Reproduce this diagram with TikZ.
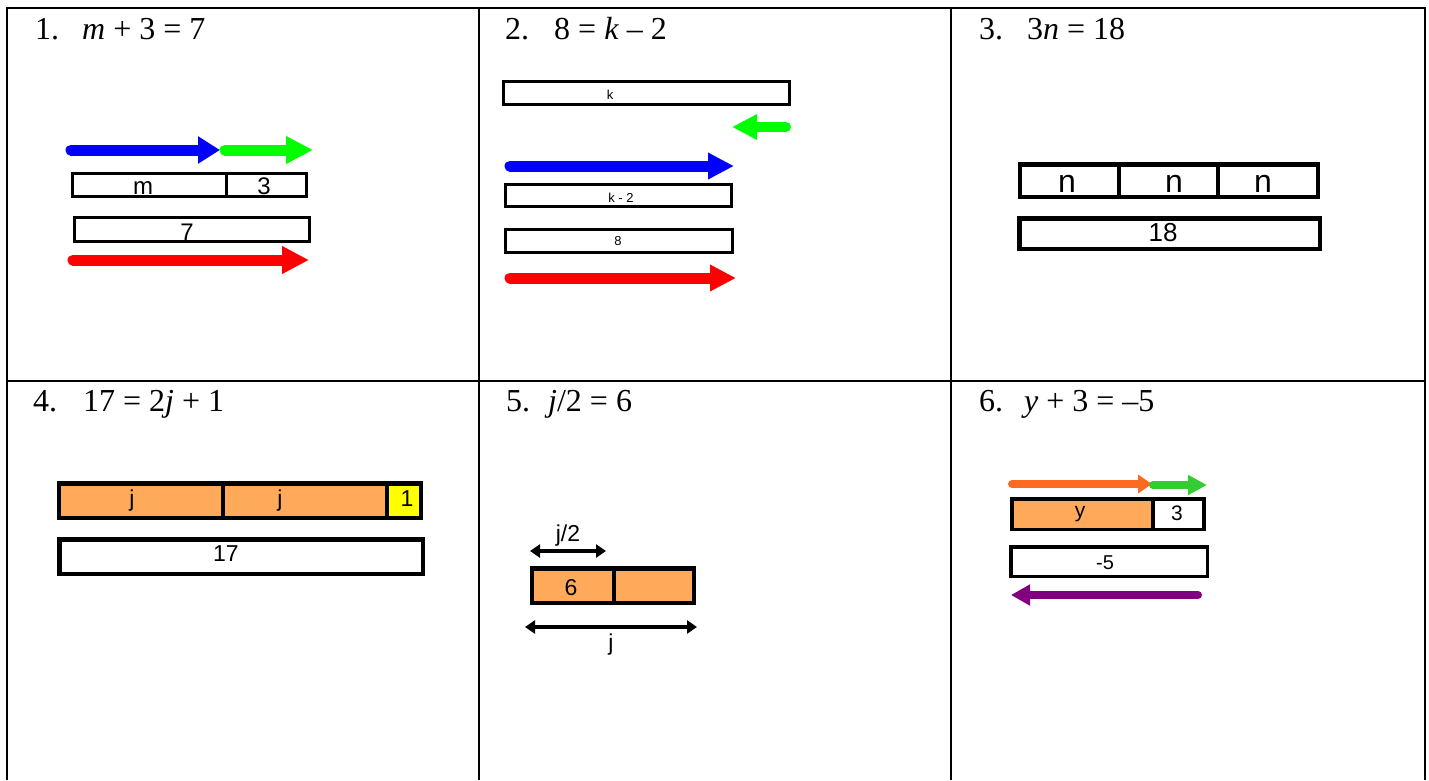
\documentclass[tikz,border=0pt]{standalone}
\usepackage{fontspec}
\setmainfont{Liberation Serif}
\newfontfamily\arialf{Liberation Sans}
\usetikzlibrary{arrows.meta}
\definecolor{orfill}{RGB}{255,170,90}
\definecolor{oarrow}{RGB}{255,106,34}
\definecolor{garrow}{RGB}{51,204,51}
\definecolor{parrow}{RGB}{128,0,128}
\definecolor{lgreen}{RGB}{0,255,0}
\definecolor{ylw}{RGB}{255,255,0}
\begin{document}
\begin{tikzpicture}[x=1pt,y=-1pt,
  gridline/.style={line width=2pt},
  ttl/.style={inner sep=0pt, anchor=base west, font=\fontsize{32}{38}\selectfont},
  bx/.style={draw, rectangle, inner sep=0pt, anchor=center},
  lbl/.style={inner sep=0pt, anchor=base, font=\arialf\fontsize{23}{27}\selectfont},
  fat/.style={line width=11pt, line cap=round},
  thin/.style={line width=8pt, line cap=round},
  dbl/.style={line width=3.5pt, {Triangle[length=10pt,width=13pt]}-{Triangle[length=10pt,width=13pt]}}
]
\useasboundingbox (0,0) rectangle (1429,780);
\fill[white] (0,0) rectangle (1429,780);
% grid
\draw[gridline] (7,780) -- (7,8) -- (1425,8) -- (1425,780);
\draw[gridline] (7,381) -- (1425,381);
\draw[gridline] (479,8) -- (479,780);
\draw[gridline] (951,8) -- (951,780);

% ---------- Panel 1 ----------
\node[ttl] (t1n) at (35,39) {1.};
\node[ttl] (t1e) at (82,39) {\textit{m} + 3 = 7};
\coordinate (a1bs) at (71,150); \coordinate (a1be) at (220,150);
\coordinate (a1gs) at (225,150); \coordinate (a1ge) at (313,150);
\coordinate (a1rs) at (73,260); \coordinate (a1re) at (309,260);
\draw[fat, blue, -{Triangle[length=22pt,width=26pt]}] (a1bs) -- (a1be);
\draw[fat, lgreen, -{Triangle[length=27pt,width=26pt]}] (a1gs) -- (a1ge);
\draw[fat, red, -{Triangle[length=27pt,width=26pt]}] (a1rs) -- (a1re);
\node[bx, line width=3pt, minimum width=153.5pt, minimum height=23pt] (b1m) at (149.25,184.5) {};
\node[bx, line width=3pt, minimum width=80.5pt, minimum height=23pt] (b1t) at (266.25,184.5) {};
\node[bx, line width=3pt, minimum width=235pt, minimum height=24pt] (b1s) at (191.5,229) {};
\node[lbl, font=\arialf\fontsize{24}{28}\selectfont] (l1m) at (143,194) {m};
\node[lbl, font=\arialf\fontsize{24}{28}\selectfont] (l1t) at (264,194) {3};
\node[lbl, font=\arialf\fontsize{24}{28}\selectfont] (l1s) at (187,240) {7};

% ---------- Panel 2 ----------
\node[ttl] (t2n) at (505,39) {2.};
\node[ttl] (t2e) at (554,39) {8 = \textit{k} – 2};
\node[bx, line width=3pt, minimum width=286pt, minimum height=23pt] (b2k) at (646.5,93) {};
\node[bx, line width=3pt, minimum width=226pt, minimum height=22pt] (b2km) at (618.5,195.5) {};
\node[bx, line width=3pt, minimum width=227pt, minimum height=23pt] (b2e) at (619,241) {};
\node[lbl, font=\arialf\fontsize{13}{15}\selectfont] (l2k) at (610,99) {k};
\node[lbl, font=\arialf\fontsize{13}{15}\selectfont] (l2km) at (621,202) {k - 2};
\node[lbl, font=\arialf\fontsize{13}{15}\selectfont] (l2e) at (618,245) {8};
\coordinate (a2gs) at (786,127); \coordinate (a2ge) at (732,127);
\coordinate (a2bs) at (510,166); \coordinate (a2be) at (734,166);
\coordinate (a2rs) at (510,278); \coordinate (a2re) at (736,278);
\draw[fat, line width=10pt, lgreen, -{Triangle[length=25pt,width=24pt]}] (a2gs) -- (a2ge);
\draw[fat, blue, -{Triangle[length=26pt,width=25pt]}] (a2bs) -- (a2be);
\draw[fat, red, -{Triangle[length=26pt,width=25pt]}] (a2rs) -- (a2re);

% ---------- Panel 3 ----------
\node[ttl] (t3n) at (979,39) {3.};
\node[ttl] (t3e) at (1027,39) {3\textit{n} = 18};
\node[bx, line width=4.5pt, minimum width=98.75pt, minimum height=32.5pt] (b3a) at (1069.6,180.5) {};
\node[bx, line width=4.5pt, minimum width=99pt, minimum height=32.5pt] (b3b) at (1168.5,180.5) {};
\node[bx, line width=4.5pt, minimum width=99.75pt, minimum height=32.5pt] (b3c) at (1267.9,180.5) {};
\node[bx, line width=4.5pt, minimum width=300.5pt, minimum height=30.5pt] (b3s) at (1169.5,233.5) {};
\node[lbl, font=\arialf\fontsize{32}{36}\selectfont] (l3a) at (1067,192) {n};
\node[lbl, font=\arialf\fontsize{32}{36}\selectfont] (l3b) at (1174,192) {n};
\node[lbl, font=\arialf\fontsize{32}{36}\selectfont] (l3c) at (1263,192) {n};
\node[lbl, font=\arialf\fontsize{26}{30}\selectfont] (l3s) at (1163,241) {18};

% ---------- Panel 4 ----------
\node[ttl] (t4n) at (33,411) {4.};
\node[ttl] (t4e) at (83,411) {17 = 2\textit{j} + 1};
\node[bx, line width=4.5pt, fill=orfill, minimum width=163.75pt, minimum height=34.5pt] (b4a) at (141.1,500.5) {};
\node[bx, line width=4.5pt, fill=orfill, minimum width=164pt, minimum height=34.5pt] (b4b) at (305,500.5) {};
\node[bx, line width=4.5pt, fill=ylw, minimum width=33.75pt, minimum height=34.5pt] (b4c) at (403.9,500.5) {};
\node[bx, line width=4.5pt, minimum width=363.5pt, minimum height=34.5pt] (b4s) at (241,556.5) {};
\node[lbl] (l4a) at (132,506) {j};
\node[lbl] (l4b) at (280,506) {j};
\node[lbl] (l4c) at (407,506) {1};
\node[lbl] (l4s) at (226,561) {17};

% ---------- Panel 5 ----------
\node[ttl] (t5n) at (506,411) {5.};
\node[ttl] (t5e) at (548,411) {\textit{j}/2 = 6};
\coordinate (a5hs) at (530,551); \coordinate (a5he) at (606,551);
\coordinate (a5js) at (525,627); \coordinate (a5je) at (697,627);
\draw[dbl] (a5hs) -- (a5he);
\draw[dbl] (a5js) -- (a5je);
\node[lbl] (l5h) at (568,541) {j/2};
\node[bx, line width=4.5pt, fill=orfill, minimum width=81.75pt, minimum height=34.5pt] (b5a) at (573.1,585.5) {};
\node[bx, line width=4.5pt, fill=orfill, minimum width=79.75pt, minimum height=34.5pt] (b5b) at (653.9,585.5) {};
\node[lbl] (l5a) at (571,595) {6};
\node[lbl] (l5j) at (611,650) {j};

% ---------- Panel 6 ----------
\node[ttl] (t6n) at (979,411) {6.};
\node[ttl] (t6e) at (1024,411) {\textit{y} + 3 = –5};
\coordinate (a6os) at (1012,484); \coordinate (a6oe) at (1152,484);
\coordinate (a6gs) at (1153,485); \coordinate (a6ge) at (1207,485);
\coordinate (a6ps) at (1198,595); \coordinate (a6pe) at (1011,595);
\draw[thin, oarrow, -{Triangle[length=14pt,width=18pt]}] (a6os) -- (a6oe);
\draw[thin, garrow, -{Triangle[length=19pt,width=19pt]}] (a6gs) -- (a6ge);
\draw[thin, parrow, -{Triangle[length=19pt,width=20pt]}] (a6ps) -- (a6pe);
\node[bx, line width=3.5pt, fill=orfill, minimum width=141.25pt, minimum height=30.5pt] (b6y) at (1082.4,514) {};
\node[bx, line width=3.5pt, minimum width=51.25pt, minimum height=30.5pt] (b6t) at (1178.6,514) {};
\node[bx, line width=3.5pt, minimum width=196.5pt, minimum height=29.5pt] (b6s) at (1109,561.5) {};
\node[lbl, font=\arialf\fontsize{21}{25}\selectfont] (l6y) at (1080,517) {y};
\node[lbl, font=\arialf\fontsize{21}{25}\selectfont] (l6t) at (1177,520) {3};
\node[lbl, font=\arialf\fontsize{20}{24}\selectfont] (l6s) at (1105,569) {-5};
\end{tikzpicture}
\end{document}
